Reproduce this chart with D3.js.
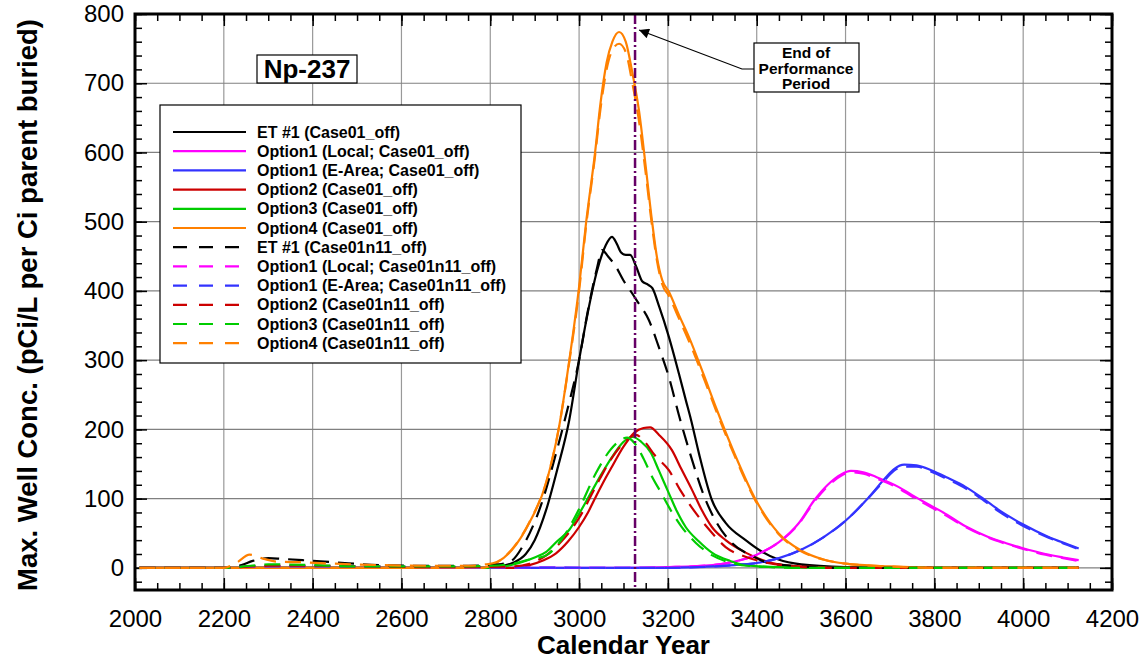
<!DOCTYPE html>
<html>
<head>
<meta charset="utf-8">
<script src="https://cdn.jsdelivr.net/npm/d3@7"></script>
<style>
  body { margin: 0; background: #fff; }
  text { font-family: "Liberation Sans", Arial, sans-serif; }
</style>
</head>
<body>
<script>
// ---- data ----
var perfEnd = 3126;
var xTicks = [2000, 2200, 2400, 2600, 2800, 3000, 3200, 3400, 3600, 3800, 4000, 4200];
var yTicks = [0, 100, 200, 300, 400, 500, 600, 700, 800];

// [year, pCi/L per Ci]
var et1 = [[2010,0],[2800,0],[2830,3],[2850,7],[2880,20],[2900,40],[2926,84],[2950,140],[2978,214],[3000,300],[3020,370],[3040,428],[3060,466],[3074,478],[3085,468],[3094,456],[3105,452],[3115,452],[3128,436],[3142,414],[3155,409],[3165,404],[3180,378],[3202,334],[3225,280],[3240,243],[3252,214],[3270,165],[3299,98],[3330,65],[3375,40],[3410,24],[3449,12],[3500,5],[3600,1],[3700,0],[4125,0]];
var opt1L = [[2010,0],[3100,0],[3200,1],[3300,4],[3350,9],[3400,19],[3450,37],[3494,64],[3530,98],[3560,120],[3590,135],[3612,140],[3640,138],[3670,131],[3719,117],[3750,105],[3780,94],[3820,80],[3870,60],[3920,45],[3960,36],[3996,29],[4050,20],[4090,15],[4125,11]];
var opt1E = [[2010,0],[3200,0],[3300,2],[3350,4],[3400,7],[3450,14],[3500,26],[3550,44],[3600,68],[3650,100],[3690,130],[3710,143],[3732,149],[3760,148],[3793,141],[3830,130],[3870,117],[3910,100],[3944,84],[3996,64],[4056,45],[4100,34],[4125,28]];
var opt2 = [[2010,0],[2850,0],[2888,4],[2920,11],[2948,21],[2975,38],[3000,59],[3020,80],[3038,103],[3060,130],[3074,146],[3100,175],[3124,195],[3145,202],[3160,203],[3180,192],[3209,170],[3230,143],[3254,113],[3275,85],[3299,59],[3330,40],[3375,22],[3434,7],[3500,2],[3600,0],[4125,0]];
var opt3 = [[2010,0],[2800,0],[2840,3],[2865,7],[2900,15],[2926,23],[2950,38],[2978,55],[3000,78],[3022,103],[3050,135],[3074,160],[3100,182],[3121,189],[3140,182],[3162,166],[3180,140],[3202,108],[3220,82],[3240,59],[3270,38],[3299,22],[3340,10],[3375,4],[3450,1],[3550,0],[4125,0]];
var opt4 = [[2010,0],[2780,0],[2813,7],[2849,26],[2888,65],[2926,123],[2955,204],[2978,300],[3000,406],[3016,500],[3036,600],[3048,670],[3062,730],[3075,760],[3090,774],[3105,760],[3120,715],[3135,660],[3150,580],[3164,502],[3175,450],[3187,416],[3202,399],[3225,365],[3247,334],[3280,280],[3308,232],[3350,165],[3398,98],[3449,50],[3500,25],[3550,12],[3600,6],[3700,2],[3800,0],[4125,0]];

var et1n = [[2010,0],[2200,0],[2240,4],[2265,10],[2300,14],[2330,13],[2380,11],[2450,8],[2550,4],[2650,3],[2750,3],[2800,4],[2830,6],[2850,11],[2872,30],[2915,92],[2950,170],[2975,232],[3000,300],[3020,372],[3040,432],[3052,459],[3065,450],[3083,435],[3100,415],[3119,397],[3130,386],[3157,358],[3180,318],[3202,276],[3225,220],[3250,165],[3285,98],[3310,65],[3344,36],[3390,17],[3427,7],[3500,2],[3600,0],[4125,0]];
var opt1Ln = [[2010,0],[2200,0],[2260,2],[2350,3],[2500,2],[2700,1],[3100,0],[3200,1],[3300,4],[3350,9],[3400,19],[3450,37],[3494,63],[3530,96],[3560,118],[3590,133],[3612,138],[3640,136],[3670,129],[3719,115],[3750,103],[3780,92],[3820,78],[3870,59],[3920,44],[3960,35],[3996,28],[4050,19],[4090,14],[4125,10]];
var opt1En = [[2010,0],[2200,0],[2260,2],[2350,2],[2500,2],[2700,1],[3200,0],[3300,2],[3350,4],[3400,7],[3450,14],[3500,26],[3550,44],[3600,68],[3650,100],[3690,128],[3710,141],[3732,146],[3760,146],[3793,139],[3830,128],[3870,115],[3910,98],[3944,82],[3996,62],[4056,44],[4100,33],[4125,27]];
var opt2n = [[2010,0],[2200,0],[2260,2],[2300,3],[2400,3],[2500,2],[2700,1],[2850,2],[2888,6],[2926,18],[2960,38],[3000,72],[3038,118],[3070,155],[3100,180],[3128,192],[3148,182],[3170,163],[3202,141],[3230,110],[3263,79],[3300,50],[3330,30],[3370,17],[3411,9],[3470,3],[3550,0],[4125,0]];
var opt3n = [[2010,0],[2200,0],[2260,3],[2300,5],[2400,4],[2500,2],[2700,2],[2800,3],[2850,6],[2888,12],[2926,18],[2950,32],[2970,50],[3000,85],[3038,137],[3070,170],[3090,183],[3108,188],[3125,180],[3145,158],[3164,132],[3185,108],[3202,88],[3230,60],[3263,36],[3300,18],[3344,7],[3400,2],[3500,0],[4125,0]];
var opt4n = [[2010,0],[2200,0],[2230,8],[2258,19],[2290,13],[2319,9],[2380,8],[2450,6],[2550,4],[2650,3],[2750,3],[2790,5],[2813,8],[2849,27],[2888,66],[2926,124],[2955,204],[2978,298],[3000,400],[3016,495],[3036,595],[3048,662],[3062,720],[3075,748],[3090,757],[3105,745],[3120,700],[3135,645],[3150,570],[3164,495],[3175,445],[3187,410],[3202,393],[3225,360],[3247,328],[3280,275],[3308,228],[3350,162],[3398,96],[3449,49],[3500,24],[3550,12],[3600,6],[3700,2],[3800,0],[4125,0]];

var seriesNames = ["ET #1 (Case01_off)", "Option1 (Local; Case01_off)", "Option1 (E-Area; Case01_off)",
  "Option2 (Case01_off)", "Option3 (Case01_off)", "Option4 (Case01_off)",
  "ET #1 (Case01n11_off)", "Option1 (Local; Case01n11_off)", "Option1 (E-Area; Case01n11_off)",
  "Option2 (Case01n11_off)", "Option3 (Case01n11_off)", "Option4 (Case01n11_off)"];
var seriesData = [et1, opt1L, opt1E, opt2, opt3, opt4, et1n, opt1Ln, opt1En, opt2n, opt3n, opt4n];
var seriesColors = ["#000000", "#ff00ff", "#3333ff", "#cc0000", "#00cc00", "#ff8000"];

// ---- layout ----
var width = 1143, height = 659;
var x = d3.scaleLinear().domain([2000, 4200]).range([135, 1112]);
var y = d3.scaleLinear().domain([-32, 800]).range([590, 14]);
var plotBottom = y.range()[0], plotTop = y.range()[1], plotLeft = x.range()[0], plotRight = x.range()[1];

var svg = d3.select("body").append("svg")
    .attr("width", width)
    .attr("height", height);

// grid
svg.append("g").selectAll("line")
    .data(xTicks.slice(1, -1))
  .enter().append("line")
    .attr("x1", function(d) { return x(d); }).attr("x2", function(d) { return x(d); })
    .attr("y1", plotBottom).attr("y2", plotTop)
    .attr("stroke", "#999").attr("stroke-width", 1.2);
svg.append("g").selectAll("line")
    .data(yTicks.slice(0, -1))
  .enter().append("line")
    .attr("y1", function(d) { return y(d); }).attr("y2", function(d) { return y(d); })
    .attr("x1", plotLeft).attr("x2", plotRight)
    .attr("stroke", "#808080").attr("stroke-width", 1.2);

// axes: inward ticks on all four sides
var xMinor = d3.range(2000, 4201, 50), yMinor = d3.range(-20, 801, 20);

function styleAxis(g) {
  g.select(".domain").remove();
  g.selectAll(".tick line").attr("stroke", "#000").attr("stroke-width", 1.5);
  g.selectAll(".tick text").style("font-size", "24px").attr("fill", "#000");
}

svg.append("g").attr("transform", "translate(0," + plotBottom + ")")
    .call(d3.axisBottom(x).tickValues(xMinor).tickSize(-7).tickFormat(""))
    .call(styleAxis);
svg.append("g").attr("transform", "translate(0," + plotBottom + ")")
    .call(d3.axisBottom(x).tickValues(xTicks).tickSize(-12).tickPadding(20).tickFormat(d3.format("d")))
    .call(styleAxis);
svg.append("g").attr("transform", "translate(0," + plotTop + ")")
    .call(d3.axisTop(x).tickValues(xMinor).tickSize(-7).tickFormat(""))
    .call(styleAxis);
svg.append("g").attr("transform", "translate(0," + plotTop + ")")
    .call(d3.axisTop(x).tickValues(xTicks).tickSize(-12).tickFormat(""))
    .call(styleAxis);
svg.append("g").attr("transform", "translate(" + plotLeft + ",0)")
    .call(d3.axisLeft(y).tickValues(yMinor).tickSize(-7).tickFormat(""))
    .call(styleAxis);
svg.append("g").attr("transform", "translate(" + plotLeft + ",0)")
    .call(d3.axisLeft(y).tickValues(yTicks).tickSize(-12).tickPadding(11).tickFormat(d3.format("d")))
    .call(styleAxis);
svg.append("g").attr("transform", "translate(" + plotRight + ",0)")
    .call(d3.axisRight(y).tickValues(yMinor).tickSize(-7).tickFormat(""))
    .call(styleAxis);
svg.append("g").attr("transform", "translate(" + plotRight + ",0)")
    .call(d3.axisRight(y).tickValues(yTicks).tickSize(-12).tickFormat(""))
    .call(styleAxis);

// curves
var line = d3.line()
    .x(function(d) { return x(d[0]); })
    .y(function(d) { return y(d[1]); })
    .curve(d3.curveMonotoneX);

svg.append("g").selectAll("path")
    .data(seriesData)
  .enter().append("path")
    .attr("d", line)
    .attr("fill", "none")
    .attr("stroke", function(d, i) { return seriesColors[i % 6]; })
    .attr("stroke-width", 2.2)
    .attr("stroke-dasharray", function(d, i) { return i < 6 ? null : "16,9"; });

// end of performance period
svg.append("line")
    .attr("x1", x(perfEnd)).attr("x2", x(perfEnd))
    .attr("y1", plotTop).attr("y2", plotBottom)
    .attr("stroke", "#660066").attr("stroke-width", 2.5)
    .attr("stroke-dasharray", "10,3,2,3");

// frame
svg.append("rect")
    .attr("x", plotLeft).attr("y", plotTop)
    .attr("width", plotRight - plotLeft).attr("height", plotBottom - plotTop)
    .attr("fill", "none").attr("stroke", "#000").attr("stroke-width", 3);

// annotation
svg.append("defs").append("marker")
    .attr("id", "arrow").attr("viewBox", "0 0 10 10")
    .attr("refX", 10).attr("refY", 5)
    .attr("markerWidth", 18).attr("markerHeight", 10)
    .attr("markerUnits", "userSpaceOnUse")
    .attr("orient", "auto")
  .append("path").attr("d", "M0,0L10,5L0,10z").attr("fill", "#000");

svg.append("polyline")
    .attr("points", "754,69 742,69 " + (x(perfEnd) + 4) + ",30")
    .attr("fill", "none").attr("stroke", "#000").attr("stroke-width", 1.2)
    .attr("marker-end", "url(#arrow)");

svg.append("rect").attr("x", 754).attr("y", 43).attr("width", 105).attr("height", 49)
    .attr("fill", "#fff").attr("stroke", "#000").attr("stroke-width", 1.2);
var ann = svg.append("text").attr("text-anchor", "middle")
    .style("font-size", "15.5px").style("font-weight", "bold");
ann.append("tspan").attr("x", 806).attr("y", 58).text("End of");
ann.append("tspan").attr("x", 806).attr("y", 74).text("Performance");
ann.append("tspan").attr("x", 806).attr("y", 89).text("Period");

// nuclide label
svg.append("rect").attr("x", 257).attr("y", 55).attr("width", 100).attr("height", 28)
    .attr("fill", "#fff").attr("stroke", "#000").attr("stroke-width", 1.2);
svg.append("text").attr("x", 307).attr("y", 78).attr("text-anchor", "middle")
    .style("font-size", "26px").style("font-weight", "bold").text("Np-237");

// legend
var legend = svg.append("g");
legend.append("rect").attr("x", 160).attr("y", 105).attr("width", 361).attr("height", 258)
    .attr("fill", "#fff").attr("stroke", "#000").attr("stroke-width", 1.2);
var item = legend.selectAll(".item")
    .data(seriesNames)
  .enter().append("g")
    .attr("transform", function(d, i) { return "translate(0," + (132 + i * 19.2) + ")"; });
item.append("line")
    .attr("x1", 173).attr("x2", function(d, i) { return i < 6 ? 246 : 240; })
    .attr("stroke", function(d, i) { return seriesColors[i % 6]; })
    .attr("stroke-width", 2.2)
    .attr("stroke-dasharray", function(d, i) { return i < 6 ? null : "14,12"; });
item.append("text")
    .attr("x", 257).attr("y", 5.5)
    .style("font-size", "16px").style("font-weight", "bold")
    .text(function(d) { return d; });

// axis titles
svg.append("text")
    .attr("x", (plotLeft + plotRight) / 2).attr("y", 654).attr("text-anchor", "middle")
    .style("font-size", "26px").style("font-weight", "bold").text("Calendar Year");
var yTitle = svg.append("text")
    .attr("transform", "translate(37," + ((plotTop + plotBottom) / 2 + 3) + ") rotate(-90)")
    .attr("text-anchor", "middle")
    .style("font-size", "20px").style("font-weight", "bold")
    .text("Max. Well Conc. (pCi/L per Ci parent buried)");
// scale the title so it spans the same length as in the reference
var len = yTitle.node().getComputedTextLength();
yTitle.style("font-size", (20 * 572 / len) + "px");
</script>
</body>
</html>
